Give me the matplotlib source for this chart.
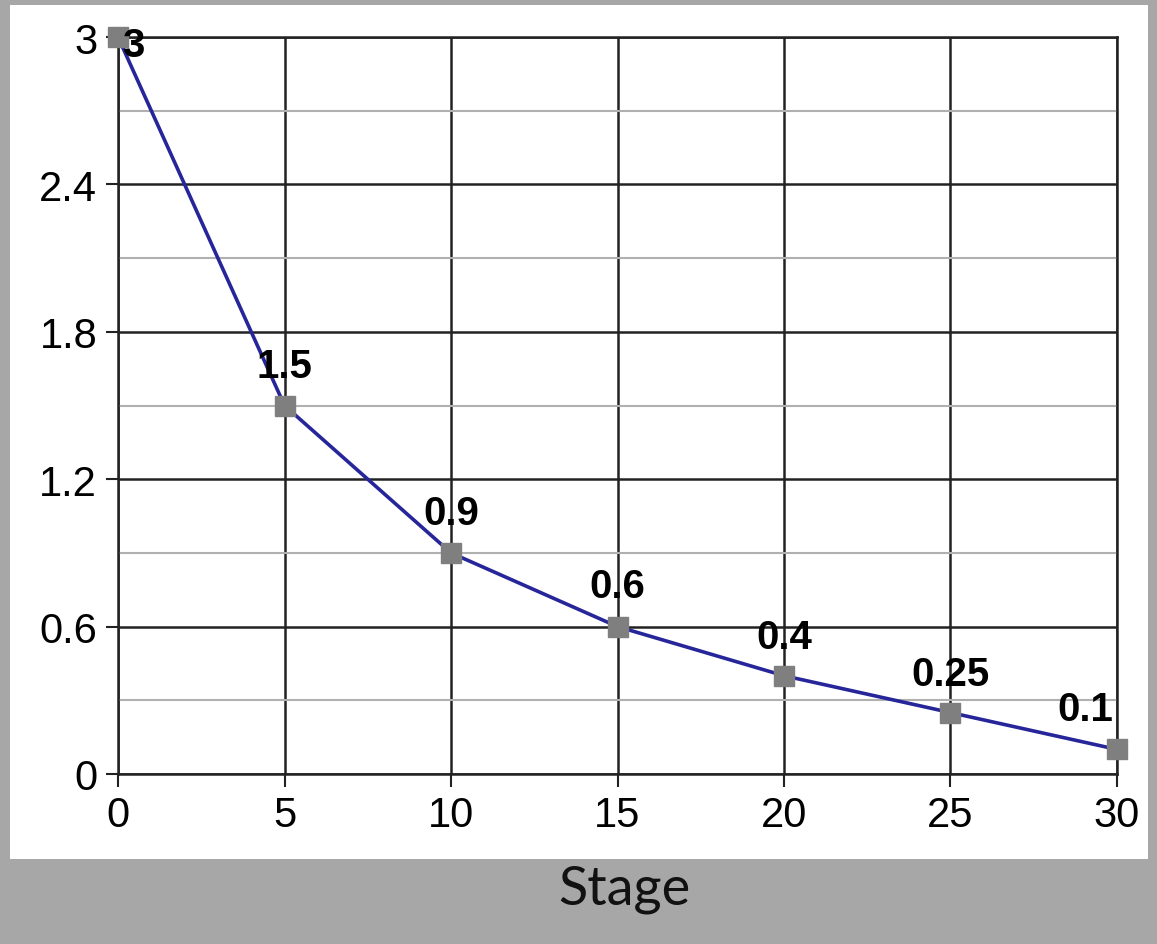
import matplotlib.pyplot as plt
from matplotlib.patches import Rectangle
from matplotlib.ticker import MultipleLocator

stage = [0, 5, 10, 15, 20, 25, 30]
values = [3, 1.5, 0.9, 0.6, 0.4, 0.25, 0.1]
labels = ['3', '1.5', '0.9', '0.6', '0.4', '0.25', '0.1']
# label offsets in pixels from the marker
offsets = [(15, -8), (0, 40), (0, 40), (0, 41), (0, 39), (0, 39), (-32, 40)]

plt.rcParams['font.family'] = ['Liberation Sans', 'DejaVu Sans']

fig = plt.figure(figsize=(11.57, 9.45), dpi=100, facecolor='#a7a7a7')
fig.patches.append(Rectangle((10 / 1157, 1 - 860 / 945), 1138 / 1157, 854 / 945,
                             transform=fig.transFigure, facecolor='white',
                             edgecolor='none', zorder=-5))

ax = fig.add_axes([118 / 1157, 1 - 775 / 945, 999 / 1157, 737 / 945])
ax.set_zorder(1)
ax.set_facecolor('white')

ax.plot(stage, values, color='#26269a', lw=2.6, marker='s', ms=14,
        mfc='#7f7f7f', mec='#7f7f7f', zorder=5, clip_on=False)

for x, y, lab, (dx, dy) in zip(stage, values, labels, offsets):
    ax.annotate(lab, (x, y), xytext=(dx * 0.72, dy * 0.72), textcoords='offset points',
                ha='center', va='center', fontsize=29, fontweight='bold', zorder=6)

ax.set_xlim(0, 30)
ax.set_ylim(0, 3)
ax.xaxis.set_major_locator(MultipleLocator(5))
ax.yaxis.set_minor_locator(MultipleLocator(0.3))
ax.set_yticks([0, 0.6, 1.2, 1.8, 2.4, 3])
ax.set_yticklabels(['0', '0.6', '1.2', '1.8', '2.4', '3'])

ax.grid(True, which='major', color='#222222', lw=1.8)
ax.grid(True, which='minor', axis='y', color='#b0b0b0', lw=1.5)
ax.set_axisbelow(True)

ax.tick_params(which='major', length=9, width=1.5, labelsize=30, pad=6, color='#222222')
ax.tick_params(which='minor', length=0)
for s in ax.spines.values():
    s.set_color('#222222')
    s.set_linewidth(1.8)

fig.text(624 / 1157, 1 - 890 / 945, 'Stage', ha='center', va='center',
         fontsize=39, family=['Lato', 'DejaVu Sans'], color='#111111')

fig.savefig('out.png', dpi=100, facecolor=fig.get_facecolor())
